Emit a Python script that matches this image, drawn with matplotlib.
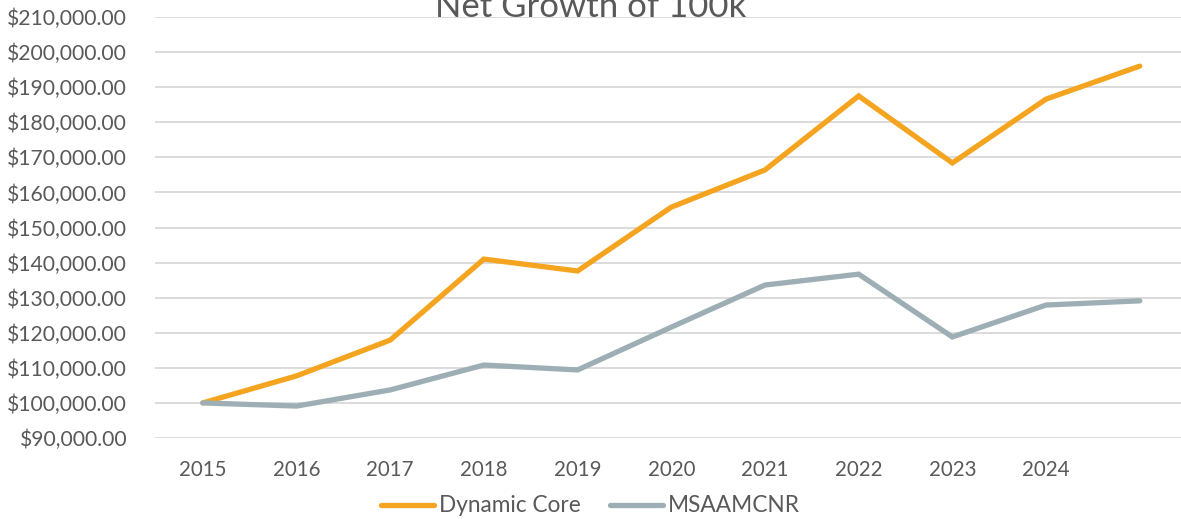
import matplotlib.pyplot as plt
from matplotlib.ticker import FuncFormatter

plt.rcParams['font.family'] = ['Lato', 'DejaVu Sans']

years = ['2015', '2016', '2017', '2018', '2019', '2020', '2021', '2022', '2023', '2024', '']
dynamic_core = [100000, 107700, 117900, 141000, 137600, 155800, 166400, 187500, 168400, 186600, 196000]
msaamcnr = [100000, 99100, 103700, 110800, 109400, 121600, 133600, 136700, 118800, 127900, 129100]

orange = '#F5A420'
gray = '#9DAFB5'
text_col = '#595959'

fig = plt.figure(figsize=(11.81, 5.19), dpi=100)
ax = fig.add_axes([155 / 1181, 1 - 438 / 519, 1 - 155 / 1181, 421 / 519])

x = list(range(len(years)))
ax.plot(x, dynamic_core, color=orange, lw=3.8, solid_capstyle='round', solid_joinstyle='miter', label='Dynamic Core')
ax.plot(x, msaamcnr, color=gray, lw=3.8, solid_capstyle='round', solid_joinstyle='miter', label='MSAAMCNR')

ax.set_xlim(-0.51, 10.44)
ax.set_ylim(90000, 210000)
ax.set_yticks(range(90000, 210001, 10000))
ax.yaxis.set_major_formatter(FuncFormatter(lambda v, p: f'${v:,.2f}'))
ax.set_xticks(x[:-1])
ax.set_xticklabels(years[:-1])

ax.grid(axis='y', color='#D9D9D9', lw=1.3)
ax.set_axisbelow(True)
for s in ax.spines.values():
    s.set_visible(False)
ax.tick_params(length=0, colors=text_col)
ax.tick_params(axis='y', labelsize=15.2, pad=20)
ax.tick_params(axis='x', labelsize=14.8, pad=16)

fig.text(0.5, 1 - 17 / 519, 'Net Growth of 100k', ha='center', va='baseline', fontsize=25, color=text_col)

leg = fig.legend(loc='center', bbox_to_anchor=(0.5, 1 - 506 / 519), ncol=2, frameon=False,
                 fontsize=16.3, handlelength=2.35, handletextpad=0.2, columnspacing=1.3)
for t in leg.get_texts():
    t.set_color(text_col)

fig.savefig('out.png', dpi=100)
